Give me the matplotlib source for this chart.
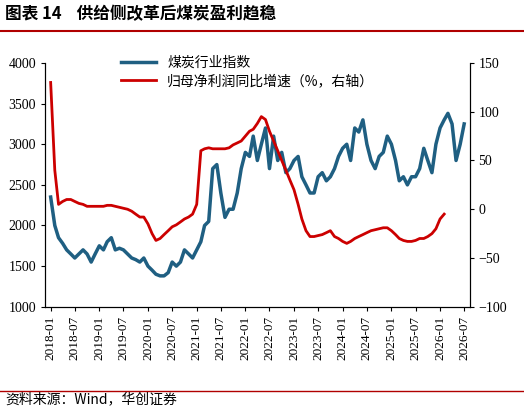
import matplotlib
matplotlib.use("Agg")
import matplotlib.pyplot as plt
import pandas as pd
import numpy as np

plt.rcParams['font.family'] = ['Noto Sans CJK SC', 'DejaVu Sans']

coal = [2350,2000,1850,1780,1700,1650,1600,1650,1700,1650,1550,1650,
        1750,1700,1800,1850,1700,1720,1700,1650,1600,1580,1550,1600,
        1500,1450,1400,1380,1380,1420,1550,1500,1550,1700,1650,1600,
        1700,1800,2000,2050,2700,2750,2400,2100,2200,2200,2400,2700,
        2900,2850,3100,2800,3000,3200,2700,3100,2800,2900,2650,2700,
        2800,2850,2600,2500,2400,2400,2600,2650,2550,2600,2700,2850,
        2950,3000,2800,3200,3150,3300,3000,2800,2700,2850,2900,3100,
        3000,2800,2550,2600,2500,2600,2600,2700,2950,2800,2650,3000,
        3200,3300,3380,3250,2800,3000,3250]
profit = [130,40,5,8,10,10,8,6,5,3,3,3,
          3,3,4,4,3,2,1,0,-2,-5,-8,-8,
          -15,-25,-32,-30,-26,-22,-18,-16,-13,-10,-8,-5,
          5,60,62,63,62,62,62,62,63,66,68,70,
          75,80,82,88,95,92,80,70,60,50,40,30,
          20,5,-10,-22,-28,-28,-27,-26,-24,-22,-28,-30,
          -33,-35,-33,-30,-28,-26,-24,-22,-21,-20,-19,-19,
          -22,-26,-30,-32,-33,-33,-32,-30,-30,-28,-25,-20,
          -10,-5]
dates = pd.date_range('2018-01-01', periods=len(coal), freq='MS')
pdates = dates[:len(profit)]
ticks = pd.date_range('2018-01-01', '2026-07-01', freq='6MS')

fig = plt.figure(figsize=(5.24, 4.09), dpi=100)
fig.text(0.01, 0.965, '图表 14    供给侧改革后煤炭盈利趋稳', fontsize=12, fontweight='bold', va='center')
fig.add_artist(plt.Line2D([0, 1], [0.925, 0.925], color='#b00000', lw=1.5))
fig.add_artist(plt.Line2D([0, 1], [0.045, 0.045], color='#b00000', lw=1))
fig.text(0.01, 0.025, '资料来源：Wind，华创证券', fontsize=10, style='italic', va='center')

ax = fig.add_axes([0.086, 0.25, 0.81, 0.596])
ax.plot(dates, coal, color='#1f5f82', lw=2.5, label='煤炭行业指数')
ax.set_ylim(1000, 4000)
ax.set_yticks(range(1000, 4001, 500))
ax2 = ax.twinx()
ax2.plot(pdates, profit, color='#cc0000', lw=2, label='归母净利润同比增速（%，右轴）')
ax2.set_ylim(-100, 150)
ax2.set_yticks(range(-100, 151, 50))
ax.set_xlim(pd.Timestamp('2017-11-20'), pd.Timestamp('2026-08-10'))
ax.set_xticks(ticks)
ax.set_xticklabels([d.strftime('%Y-%m') for d in ticks], rotation=90, fontsize=9)
for a in (ax, ax2):
    a.tick_params(labelsize=10, length=3)
    a.spines['top'].set_visible(False)
    for lab in a.get_yticklabels() + a.get_xticklabels():
        lab.set_family('Liberation Serif')
ax.tick_params(axis='x', labelsize=9.5)
h1, l1 = ax.get_legend_handles_labels()
h2, l2 = ax2.get_legend_handles_labels()
ax.legend(h1 + h2, l1 + l2, loc='upper left', bbox_to_anchor=(0.15, 1.08), frameon=False, fontsize=10, handlelength=2.5, labelspacing=0.3)
fig.savefig('out.png', dpi=100)
